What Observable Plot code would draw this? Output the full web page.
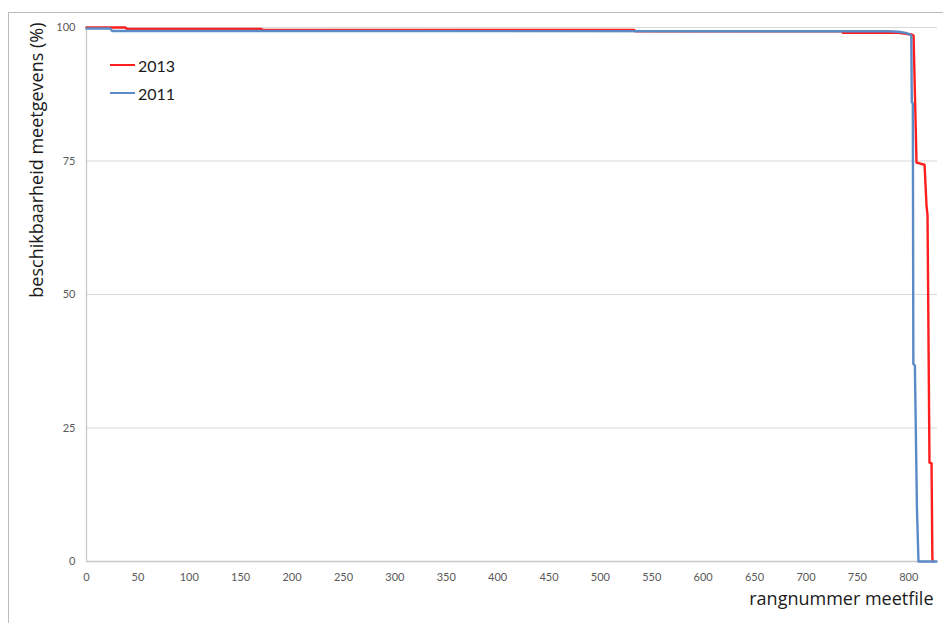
<!DOCTYPE html>
<html>
<head>
<meta charset="utf-8">
<script src="https://cdn.jsdelivr.net/npm/d3@7"></script>
<script src="https://cdn.jsdelivr.net/npm/@observablehq/plot@0.6"></script>
<style>
  html, body { margin: 0; padding: 0; background: #fff; overflow: hidden; }
  #wrap { position: relative; width: 943px; height: 623px; }
  #border { position: absolute; left: 8px; top: 12px; width: 960px; height: 640px;
            border: 1px solid #bcbcbc; box-sizing: border-box; pointer-events: none; }
  #legend { position: absolute; left: 110px; top: 51px; font-family: Lato, "Open Sans", sans-serif;
            font-size: 16px; color: #1a1a1a; }
  #legend .item { display: flex; align-items: center; height: 28px; }
  #legend .swatch { width: 25px; height: 0; border-top: 2.5px solid; margin-right: 3px; }
</style>
</head>
<body>
<div id="wrap">
  <div id="chart"></div>
  <div id="border"></div>
  <div id="legend"></div>
</div>
<script>
// Ranked availability of measurement files: rank number vs. availability (%)
const series = ["2013", "2011"];
const colors = ["#ff1e1e", "#5b8bc7"];

const rank2013 = [0, 38, 39, 170, 171, 533, 534, 735, 736, 790, 802.5, 804.7, 807.6, 815.4, 817.3, 818.3, 820.2, 822.2, 823, 823.5];
const avail2013 = [100, 100, 99.75, 99.75, 99.55, 99.55, 99.3, 99.3, 99.0, 99.0, 98.7, 98.5, 74.7, 74.3, 66.7, 64.8, 18.5, 18.4, 0.6, 0];

const rank2011 = [0, 23, 25, 780, 790, 797, 801, 802.5, 803, 804, 804.5, 806, 808, 809.5, 827];
const avail2011 = [99.8, 99.8, 99.35, 99.3, 99.2, 99.0, 98.7, 98.5, 86, 85.8, 37, 36.7, 10, 0, 0];

const xTicks = d3.range(0, 801, 50);
const yTicks = [0, 25, 50, 75, 100];

const rows2013 = rank2013.map((r, i) => ({rank: r, avail: avail2013[i], year: series[0]}));
const rows2011 = rank2011.map((r, i) => ({rank: r, avail: avail2011[i], year: series[1]}));

const font = 'Lato, "Open Sans", sans-serif';
const titleFont = '"Open Sans", Lato, sans-serif';

const chart = Plot.plot({
  width: 943,
  height: 623,
  marginLeft: 86,
  marginRight: 6,
  marginTop: 27,
  marginBottom: 62,
  style: {fontFamily: font, fontSize: "11px", color: "#595959", background: "transparent", overflow: "visible"},
  x: {domain: [0, 828], ticks: xTicks, tickSize: 0, tickPadding: 12, label: null},
  y: {domain: [0, 100], ticks: yTicks, tickSize: 0, tickPadding: 11, label: null},
  marks: [
    Plot.gridY(yTicks.filter(d => d > 0), {stroke: "#d9d9d9", strokeOpacity: 1, strokeWidth: 1}),
    Plot.ruleY([0], {stroke: "#c8c8c8", strokeWidth: 1.3}),
    Plot.ruleX([0], {stroke: "#c8c8c8", strokeWidth: 1.3}),
    Plot.axisX({ticks: xTicks, tickSize: 0, tickPadding: 12, fill: "#595959", label: null}),
    Plot.axisY({ticks: yTicks, tickSize: 0, tickPadding: 11, fill: "#595959", label: null}),
    Plot.line(rows2013, {x: "rank", y: "avail", stroke: colors[0], strokeWidth: 2.4}),
    Plot.line(rows2011, {x: "rank", y: "avail", stroke: colors[1], strokeWidth: 2.4}),
    // axis titles
    Plot.text(["beschikbaarheid meetgevens (%)"], {
      frameAnchor: "top-left", dx: -56, dy: -5, rotate: -90, textAnchor: "end",
      fontSize: 18, fontFamily: titleFont, fill: "#1a1a1a", text: d => d
    }),
    Plot.text(["rangnummer meetfile"], {
      frameAnchor: "bottom-right", dx: -4, dy: 43, textAnchor: "end",
      fontSize: 18, fontFamily: titleFont, fill: "#1a1a1a", text: d => d
    })
  ]
});
document.getElementById("chart").appendChild(chart);

// legend
const legend = d3.select("#legend");
series.forEach((s, i) => {
  const item = legend.append("div").attr("class", "item");
  item.append("div").attr("class", "swatch").style("border-top-color", colors[i]);
  item.append("span").text(s);
});
</script>
</body>
</html>
